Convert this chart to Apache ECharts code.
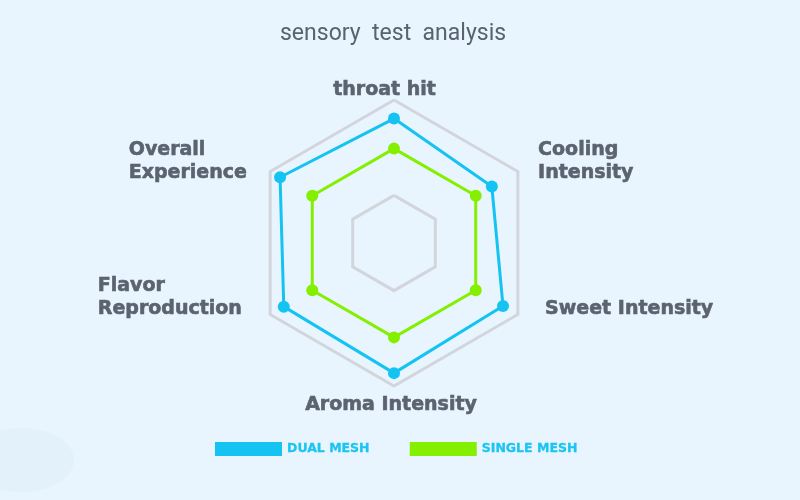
<!DOCTYPE html>
<html>
<head>
<meta charset="utf-8">
<script src="https://cdn.jsdelivr.net/npm/echarts@6/dist/echarts.min.js"></script>
<style>
html,body{margin:0;padding:0;background:#e8f5fe;}
#c{width:800px;height:500px;}
</style>
</head>
<body>
<div id="c"></div>
<script>
const titleText = 'sensory  test  analysis';
const indicators = ['throat hit', 'Overall\nExperience', 'Flavor\nReproduction', 'Aroma Intensity', 'Sweet Intensity', 'Cooling\nIntensity'];
const maxValue = 100;
const seriesNames = ['DUAL MESH', 'SINGLE MESH'];
const dualMesh = [87, 92, 89, 91, 88, 79];
const singleMesh = [66, 66, 66, 66, 66, 66];

// label fine placement (style only): [richStyle, spacer before, spacer after]
const labelPlace = [
  ['top', 0, 0],
  ['ov', 0, 22],
  ['fl', 0, 32],
  ['ar', 10, 0],
  ['sw', 0, 8],
  ['co', 0, 22]
];

function fmt(name) {
  const i = indicators.indexOf(name);
  const p = labelPlace[i] || ['top', 0, 0];
  let parts = name.split('\n').map(l => '{' + p[0] + '|' + l + '}');
  if (p[1]) parts.unshift('{sp' + p[1] + '| }');
  if (p[2]) parts.push('{sp' + p[2] + '| }');
  return parts.join('\n');
}
const labelInk = { textBorderColor: '#5b6270', textBorderWidth: 0.6 };
const rich = {
  top: Object.assign({ align: 'center', lineHeight: 23, padding: [0, 19, 0, 0] }, labelInk),
  ar: Object.assign({ align: 'center', lineHeight: 23, padding: [0, 6, 0, 0] }, labelInk),
  ov: Object.assign({ align: 'left', lineHeight: 23, padding: [0, 25, 0, 0] }, labelInk),
  fl: Object.assign({ align: 'left', lineHeight: 23, padding: [0, 30, 0, 0] }, labelInk),
  co: Object.assign({ align: 'left', lineHeight: 23, padding: [0, 0, 0, 22] }, labelInk),
  sw: Object.assign({ align: 'left', lineHeight: 23, padding: [0, 0, 0, 29] }, labelInk)
};
[8, 10, 22, 32].forEach(h => { rich['sp' + h] = { fontSize: 1, lineHeight: h, align: 'left' }; });

const chart = echarts.init(document.getElementById('c'));
chart.setOption({
  backgroundColor: '#e8f5fe',
  graphic: [{
    type: 'ellipse', shape: { cx: 22, cy: 460, rx: 52, ry: 32 },
    style: { fill: '#e2f1fa' }, silent: true, z: -1
  }],
  title: {
    text: titleText,
    left: 275,
    top: 18,
    textStyle: { fontFamily: 'Roboto', fontWeight: 'normal', fontSize: 23, color: '#5a6170' }
  },
  legend: {
    data: seriesNames,
    left: 210,
    top: 437,
    itemWidth: 67,
    itemHeight: 14,
    itemGap: 40,
    icon: 'rect',
    textStyle: { fontFamily: 'DejaVu Sans', fontWeight: 'bold', fontSize: 12.5, color: '#1cc4f2',
      textBorderColor: '#1cc4f2', textBorderWidth: 0.3 }
  },
  radar: {
    center: [394, 243],
    radius: 143,
    startAngle: 90,
    splitNumber: 3,
    shape: 'polygon',
    indicator: indicators.map(n => ({ name: n, max: maxValue })),
    axisName: {
      color: '#5b6270',
      fontFamily: 'DejaVu Sans',
      fontWeight: 'bold',
      fontSize: 19,
      formatter: fmt,
      rich: rich
    },
    nameGap: -2,
    axisLine: { show: false },
    axisTick: { show: false },
    axisLabel: { show: false },
    splitArea: { show: false },
    splitLine: {
      lineStyle: { color: ['transparent', '#d2d5dc', 'transparent', '#d2d5dc'], width: 3 }
    }
  },
  series: [{
    type: 'radar',
    symbol: 'circle',
    symbolSize: 12,
    data: [
      { name: seriesNames[0], value: dualMesh,
        itemStyle: { color: '#14c3f2' }, lineStyle: { color: '#14c3f2', width: 3 } },
      { name: seriesNames[1], value: singleMesh,
        itemStyle: { color: '#84f000' }, lineStyle: { color: '#84f000', width: 3 } }
    ]
  }]
});
</script>
</body>
</html>
